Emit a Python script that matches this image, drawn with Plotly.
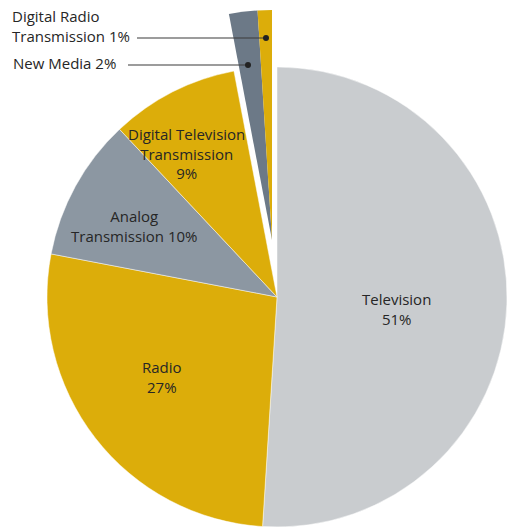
import plotly.graph_objects as go

# Share of spending by media category
categories = ["Television", "Radio", "Analog Transmission",
              "Digital Television Transmission", "New Media",
              "Digital Radio Transmission"]
shares = [51, 27, 10, 9, 2, 1]
slice_labels = ["Television<br>51%", "Radio<br>27%", "Analog<br>Transmission 10%",
                "Digital Television<br>Transmission<br>9%", "New Media 2%",
                "Digital Radio<br>Transmission 1%"]

GOLD = "#DCAD0A"
colors = ["#C9CCCF", GOLD, "#8C97A2", GOLD, "#6C7987", GOLD]
exploded = [False, False, False, False, True, True]

W, H = 512, 528


def px(x):
    return x / W


def py(y):
    return 1 - y / H


def dom_x(cx, r):
    return [px(cx - r), px(cx + r)]


def dom_y(cy, r):
    return [py(cy + r), py(cy - r)]


R = 230
main_c = (277, 297)
pull_c = (272, 240)

fig = go.Figure()

# Main pie: the four slices that stay in place
fig.add_trace(go.Pie(
    labels=categories, values=shares, sort=False, direction="clockwise",
    rotation=0,
    marker=dict(colors=[c if not e else "rgba(0,0,0,0)" for c, e in zip(colors, exploded)],
                line=dict(color="rgba(255,255,255,0.8)", width=[0.6 if not e else 0 for e in exploded])),
    textinfo="none", hoverinfo="skip", showlegend=False,
    domain=dict(x=dom_x(main_c[0], R), y=dom_y(main_c[1], R)),
))

# Exploded group: the two smallest slices shifted outward together
fig.add_trace(go.Pie(
    labels=categories, values=shares, sort=False, direction="clockwise",
    rotation=0,
    marker=dict(colors=[c if e else "rgba(0,0,0,0)" for c, e in zip(colors, exploded)],
                line=dict(width=0)),
    textinfo="none", hoverinfo="skip", showlegend=False,
    domain=dict(x=dom_x(pull_c[0], R), y=dom_y(pull_c[1], R)),
))

font = dict(family="Open Sans, sans-serif", size=15, color="#262626")

# Inside labels (x, y centre in pixels)
inside_pos = {
    0: (396, 309),
    1: (162, 377),
    2: (134, 226),
    3: (186, 153),
}
annotations = []
for i, (x, y) in inside_pos.items():
    annotations.append(dict(
        text=slice_labels[i], x=px(x), y=py(y), xref="paper", yref="paper",
        xanchor="center", yanchor="middle", align="center", showarrow=False,
        font=font,
    ))

# Outside labels with leader lines to the exploded slices
callouts = {
    5: dict(text_xy=(10, 26), line_from=(137, 38), dot=(266, 38)),
    4: dict(text_xy=(11, 63), line_from=(128, 65), dot=(248, 65)),
}
shapes = []
for i, c in callouts.items():
    tx, ty = c["text_xy"]
    annotations.append(dict(
        text=slice_labels[i], x=px(tx), y=py(ty), xref="paper", yref="paper",
        xanchor="left", yanchor="middle", align="left", showarrow=False,
        font=font,
    ))
    (x0, y0), (x1, y1) = c["line_from"], c["dot"]
    shapes.append(dict(type="line", xref="paper", yref="paper",
                       x0=px(x0), y0=py(y0), x1=px(x1), y1=py(y1),
                       line=dict(color="#3A3A3A", width=1.2)))
    shapes.append(dict(type="circle", xref="paper", yref="paper",
                       x0=px(x1 - 3), x1=px(x1 + 3), y0=py(y1 + 3), y1=py(y1 - 3),
                       fillcolor="#222222", line=dict(width=0)))

fig.update_layout(
    width=W, height=H,
    margin=dict(l=0, r=0, t=0, b=0),
    paper_bgcolor="white", plot_bgcolor="white",
    annotations=annotations, shapes=shapes,
)

fig.write_html("out.html")
